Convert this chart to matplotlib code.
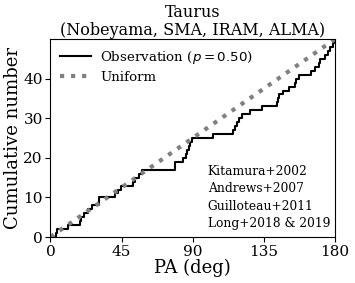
import numpy as np
import matplotlib
matplotlib.use("Agg")
import matplotlib.pyplot as plt

# position angles (deg) of the Taurus sample
pa_obs = [3.5, 4.0, 11.0, 18.8, 19.5, 21.0, 23.5, 26.0, 30.8, 31.0,
          41.0, 42.5, 44.5, 52.5, 53.5, 56.0, 58.0, 78.6, 79.0, 84.0,
          85.5, 86.5, 87.5, 88.5, 89.5, 102.5, 115.5, 116.5, 118.0, 119.5,
          121.0, 126.0, 133.5, 143.5, 144.0, 144.5, 147.0, 151.0, 154.5, 155.5,
          157.0, 164.5, 167.0, 169.5, 170.5, 173.5, 175.5, 176.5, 178.5, 179.5]
p_value = 0.50
refs = ["Kitamura+2002", "Andrews+2007", "Guilloteau+2011", "Long+2018 & 2019"]

plt.rcParams["font.family"] = "DejaVu Serif"

n = len(pa_obs)
x = np.concatenate([[0], np.sort(pa_obs), [180]])
y = np.concatenate([[0], np.arange(1, n + 1), [n]])

fig = plt.figure(figsize=(3.55, 2.83), dpi=100)
ax = fig.add_axes([0.142, 0.1625, 0.802, 0.6995])

ax.step(x, y, where="post", color="black", lw=1.5,
        label=r"Observation ($p=%.2f$)" % p_value)
ax.plot([0, 180], [0, n], color="gray", lw=3, ls=":", label="Uniform")

ax.set_xlim(0, 180)
ax.set_ylim(0, n)
ax.set_xticks([0, 45, 90, 135, 180])
ax.set_yticks([0, 10, 20, 30, 40])
ax.tick_params(labelsize=11, pad=2)
ax.set_xlabel("PA (deg)", fontsize=13, labelpad=0)
ax.set_ylabel("Cumulative number", fontsize=13, labelpad=1)
ax.set_title("Taurus\n(Nobeyama, SMA, IRAM, ALMA)", fontsize=11.5, linespacing=1.05, pad=3)

ax.legend(loc="upper left", frameon=False, fontsize=9.6, handlelength=2.3,
          handletextpad=0.7, borderaxespad=0.35, labelspacing=0.35)
ax.text(0.553, 0.035, "\n".join(refs), transform=ax.transAxes, fontsize=8.8,
        ha="left", va="bottom", linespacing=1.45)

fig.savefig("out.png", dpi=100)
